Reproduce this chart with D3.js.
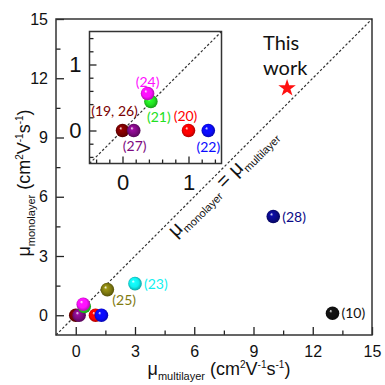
<!DOCTYPE html>
<html>
<head>
<meta charset="utf-8">
<script src="https://cdn.jsdelivr.net/npm/d3@7"></script>
<style>
  body { margin: 0; background: #fff; }
  svg { display: block; }
</style>
</head>
<body>
<svg width="385" height="385"></svg>
<script>
// reference numbers and mobilities (cm2/Vs)
var refs = ["(19, 26)", "(27)", "(21)", "(24)", "(20)", "(22)", "(23)", "(25)", "(28)", "(10)"];
var multilayer = [0.0, 0.17, 0.43, 0.38, 1.0, 1.3, 3.0, 1.6, 10.0, 13.0];
var monolayer = [0.0, 0.0, 0.44, 0.56, 0.0, 0.0, 1.6, 1.3, 5.0, 0.1];
var colors = ["#7a0000", "#7d0a80", "#22e022", "#ff10ff", "#ff0000", "#0a0aff", "#10f0f0", "#7f7a10", "#0a0a88", "#111111"];
var thisWork = {multi: 10.7, mono: 11.5};

var mainTicks = [0, 3, 6, 9, 12, 15];
var mainMinor = [1.5, 4.5, 7.5, 10.5, 13.5];
var insetTicks = [0, 1];
var insetMinor = [-0.4, -0.2, 0.2, 0.4, 0.6, 0.8, 1.2, 1.4];

var data = refs.map(function(r, i) {
  return {ref: r, x: multilayer[i], y: monolayer[i], color: colors[i]};
});

var svg = d3.select("svg");
var numFont = "'Liberation Sans', Arial, sans-serif";
var lblFont = "Lato, 'Open Sans', sans-serif";

var x = d3.scaleLinear().domain([-1, 15]).range([56, 372]);
var y = d3.scaleLinear().domain([-1, 15]).range([335, 19]);

// sphere gradients
var defs = svg.append("defs");
colors.forEach(function(c, i) {
  var g = defs.append("radialGradient").attr("id", "sph" + i)
    .attr("cx", "50%").attr("cy", "50%").attr("r", "55%")
    .attr("fx", "35%").attr("fy", "32%");
  var base = d3.color(c);
  g.append("stop").attr("offset", "0%").attr("stop-color", "#ffffff");
  g.append("stop").attr("offset", "22%").attr("stop-color", base.brighter(0.6).formatHex());
  g.append("stop").attr("offset", "60%").attr("stop-color", c);
  g.append("stop").attr("offset", "100%").attr("stop-color", base.darker(1.3).formatHex());
});

function drawAxes(g, xs, ys, major, minor, majLen, minLen, fs, padX, padY) {
  var fmt = d3.format("d");
  g.append("g").attr("transform", "translate(0," + ys.range()[0] + ")")
    .call(d3.axisBottom(xs).tickValues(major).tickFormat(fmt).tickSizeInner(-majLen).tickSizeOuter(0).tickPadding(padX));
  g.append("g").attr("transform", "translate(0," + ys.range()[0] + ")")
    .call(d3.axisBottom(xs).tickValues(minor).tickSizeInner(-minLen).tickSizeOuter(0).tickFormat(""));
  g.append("g").attr("transform", "translate(" + xs.range()[0] + ",0)")
    .call(d3.axisLeft(ys).tickValues(major).tickFormat(fmt).tickSizeInner(-majLen).tickSizeOuter(0).tickPadding(padY));
  g.append("g").attr("transform", "translate(" + xs.range()[0] + ",0)")
    .call(d3.axisLeft(ys).tickValues(minor).tickSizeInner(-minLen).tickSizeOuter(0).tickFormat(""));
  g.selectAll(".domain").remove();
  g.selectAll(".tick line").attr("stroke", "#222").attr("stroke-width", 1.3);
  g.selectAll(".tick text").attr("font-family", numFont).attr("font-size", fs).attr("fill", "#111");
  g.append("rect")
    .attr("x", xs.range()[0]).attr("y", ys.range()[1])
    .attr("width", xs.range()[1] - xs.range()[0])
    .attr("height", ys.range()[0] - ys.range()[1])
    .attr("fill", "none").attr("stroke", "#333").attr("stroke-width", 1.5);
}

function drawDiag(g, xs, ys, lo, hi) {
  g.append("line")
    .attr("x1", xs(lo)).attr("y1", ys(lo))
    .attr("x2", xs(hi)).attr("y2", ys(hi))
    .attr("stroke", "#333").attr("stroke-width", 1.2)
    .attr("stroke-dasharray", "2.5,2");
}

function drawSpheres(g, xs, ys, pts, r) {
  g.selectAll("circle.sph").data(pts).enter().append("circle")
    .attr("class", "sph")
    .attr("cx", function(d) { return xs(d.x); })
    .attr("cy", function(d) { return ys(d.y); })
    .attr("r", r)
    .attr("fill", function(d) { return "url(#sph" + colors.indexOf(d.color) + ")"; });
}

// ---- main plot ----
var main = svg.append("g");
drawAxes(main, x, y, mainTicks, mainMinor, 8, 4.5, 16, 11, 8);
drawDiag(main, x, y, -1, 15);
drawSpheres(main, x, y, data, 6.8);

// labels of the far-away points in main panel
var mainLabels = {"(23)": [9, 5], "(25)": [5, 15], "(28)": [9, 5], "(10)": [9, 5]};
main.selectAll("text.ref").data(data.filter(function(d) { return mainLabels[d.ref]; }))
  .enter().append("text").attr("class", "ref")
  .attr("x", function(d) { return x(d.x) + mainLabels[d.ref][0]; })
  .attr("y", function(d) { return y(d.y) + mainLabels[d.ref][1]; })
  .attr("font-family", lblFont).attr("font-size", 14)
  .attr("fill", function(d) { return d.color; })
  .text(function(d) { return d.ref; });

// this work
main.append("path")
  .attr("d", d3.symbol(d3.symbolStar).size(95)())
  .attr("transform", "translate(" + x(thisWork.multi) + "," + y(thisWork.mono) + ")")
  .attr("fill", "#ff1010");
main.append("text").attr("x", 263).attr("y", 50)
  .attr("font-family", lblFont).attr("font-size", 20).attr("fill", "#111").text("This");
main.append("text").attr("x", 263).attr("y", 75)
  .attr("font-family", lblFont).attr("font-size", 20).attr("fill", "#111").text("work");

// diagonal label
var t = 7.07;
var dl = main.append("text")
  .attr("transform", "translate(" + x(t) + "," + y(t) + ") rotate(-45)")
  .attr("y", 16).attr("text-anchor", "middle")
  .attr("font-family", numFont).attr("font-size", 20).attr("fill", "#111");
dl.append("tspan").text("μ");
dl.append("tspan").attr("font-size", 11).attr("dy", 5).text("monolayer");
dl.append("tspan").attr("dy", -5).text(" = μ");
dl.append("tspan").attr("font-size", 11).attr("dy", 5).text("multilayer");

// axis titles
var xt = svg.append("text").attr("x", 219).attr("y", 375).attr("text-anchor", "middle")
  .attr("font-family", numFont).attr("font-size", 18).attr("fill", "#111");
xt.append("tspan").text("μ");
xt.append("tspan").attr("font-size", 11).attr("dy", 5).text("multilayer");
xt.append("tspan").attr("dy", -5).text(" (cm");
xt.append("tspan").attr("font-size", 10).attr("dy", -7).text("2");
xt.append("tspan").attr("dy", 7).text("V");
xt.append("tspan").attr("font-size", 10).attr("dy", -7).text("-1");
xt.append("tspan").attr("dy", 7).text("s");
xt.append("tspan").attr("font-size", 10).attr("dy", -7).text("-1");
xt.append("tspan").attr("dy", 7).text(")");

var yt = svg.append("text").attr("transform", "translate(30,183) rotate(-90)").attr("text-anchor", "middle")
  .attr("font-family", numFont).attr("font-size", 18).attr("fill", "#111");
yt.append("tspan").text("μ");
yt.append("tspan").attr("font-size", 11).attr("dy", 5).text("monolayer");
yt.append("tspan").attr("dy", -5).text(" (cm");
yt.append("tspan").attr("font-size", 10).attr("dy", -7).text("2");
yt.append("tspan").attr("dy", 7).text("V");
yt.append("tspan").attr("font-size", 10).attr("dy", -7).text("-1");
yt.append("tspan").attr("dy", 7).text("s");
yt.append("tspan").attr("font-size", 10).attr("dy", -7).text("-1");
yt.append("tspan").attr("dy", 7).text(")");

// ---- inset ----
var xi = d3.scaleLinear().domain([-0.5, 1.5]).range([89.5, 221.5]);
var yi = d3.scaleLinear().domain([-0.5, 1.5]).range([163.5, 31.5]);
var inset = svg.append("g");
inset.append("rect").attr("x", 89.5).attr("y", 31.5).attr("width", 132).attr("height", 132).attr("fill", "#fff");
drawDiag(inset, xi, yi, -0.5, 1.5);
drawAxes(inset, xi, yi, insetTicks, insetMinor, 7, 4, 22, 11, 8);
var insetPts = data.filter(function(d) { return d.x <= 1.5 && d.y <= 1.5; });
drawSpheres(inset, xi, yi, insetPts, 6.8);

var insetLabels = {
  "(24)": [0, -7], "(21)": [8, 21], "(19, 26)": [-8, -15],
  "(27)": [1, 20], "(20)": [-3, -10], "(22)": [0, 21]
};
inset.selectAll("text.ref").data(insetPts).enter().append("text").attr("class", "ref")
  .attr("x", function(d) { return xi(d.x) + insetLabels[d.ref][0]; })
  .attr("y", function(d) { return yi(d.y) + insetLabels[d.ref][1]; })
  .attr("text-anchor", "middle")
  .attr("font-family", lblFont).attr("font-size", 14)
  .attr("fill", function(d) { return d.color; })
  .text(function(d) { return d.ref; });
</script>
</body>
</html>
